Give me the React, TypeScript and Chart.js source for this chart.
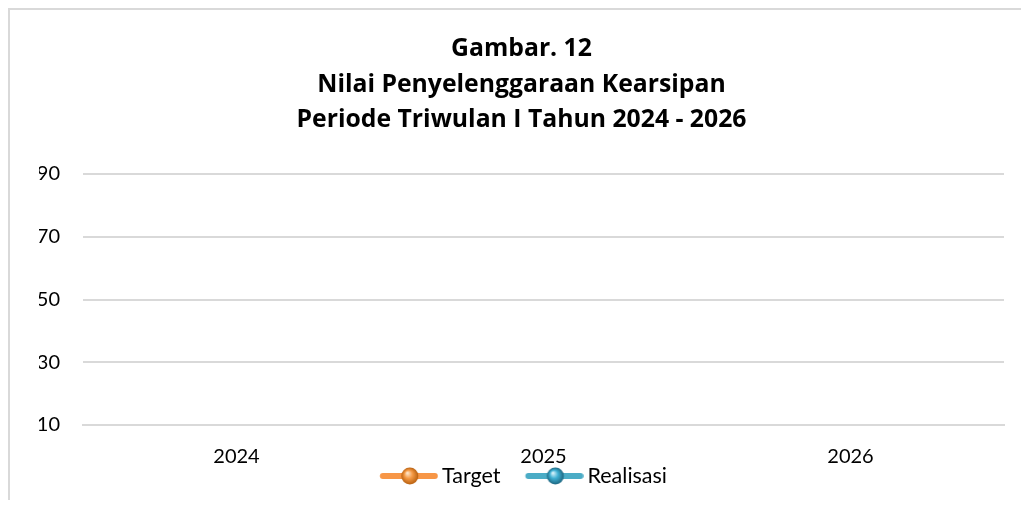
import React, { useEffect, useRef } from 'react';
import { Chart, registerables } from 'chart.js';

Chart.register(...registerables);

const categories: string[] = ['2024', '2025', '2026'];
const targetValues: (number | null)[] = [null, null, null];
const realisasiValues: (number | null)[] = [null, null, null];
const seriesNames: string[] = ['Target', 'Realisasi'];
const titleLines: string[] = ['Gambar. 12', 'Nilai Penyelenggaraan Kearsipan', 'Periode Triwulan I Tahun 2024 - 2026'];
const yMin = 10;
const yMax = 90;
const yStep = 20;

const FONT = 'Lato';
const TITLE_FONT = 'Open Sans';
const LEG_PAD = 21;
const MARK_L = 31.75 - LEG_PAD;
const MARK_W = MARK_L + 58;
const BOX_W = MARK_W - 13.5;

function makeMarker(lineColor: string, light: string, mid: string, dark: string): HTMLCanvasElement {
  const c = document.createElement('canvas');
  c.width = Math.round(MARK_W);
  c.height = 20;
  const ctx = c.getContext('2d') as CanvasRenderingContext2D;
  const L = MARK_L;
  const cy = 10;
  ctx.strokeStyle = lineColor;
  ctx.lineWidth = 6;
  ctx.lineCap = 'round';
  ctx.beginPath();
  ctx.moveTo(L + 3, cy);
  ctx.lineTo(L + 55, cy);
  ctx.stroke();
  const cx = L + 30;
  const r = 8.5;
  const g = ctx.createRadialGradient(cx - 2.5, cy - 3, 0.5, cx, cy, r);
  g.addColorStop(0, light);
  g.addColorStop(0.45, mid);
  g.addColorStop(1, dark);
  ctx.fillStyle = g;
  ctx.beginPath();
  ctx.arc(cx, cy, r, 0, Math.PI * 2);
  ctx.fill();
  return c;
}

export default function App() {
  const ref = useRef<HTMLCanvasElement | null>(null);

  useEffect(() => {
    if (!ref.current) return;
    const markers = [
      makeMarker('#f79646', '#fde3c6', '#f59a45', '#b8600f'),
      makeMarker('#4bacc6', '#d4f1fa', '#3fb0d3', '#1d6680'),
    ];
    const chart = new Chart(ref.current, {
      type: 'line',
      data: {
        labels: categories,
        datasets: [
          {
            label: seriesNames[0],
            data: targetValues,
            borderColor: '#f79646',
            backgroundColor: '#f79646',
            borderWidth: 6,
            pointRadius: 8,
          },
          {
            label: seriesNames[1],
            data: realisasiValues,
            borderColor: '#4bacc6',
            backgroundColor: '#4bacc6',
            borderWidth: 6,
            pointRadius: 8,
          },
        ],
      },
      options: {
        responsive: false,
        animation: false,
        layout: { padding: { top: 0, bottom: 3.25, left: 29, right: 24 } },
        plugins: {
          title: {
            display: true,
            text: titleLines,
            color: '#000',
            font: { family: TITLE_FONT, weight: 'bold', size: 24.75, lineHeight: 35.5 / 24.75 },
            padding: { top: 21.5, bottom: 36 },
          },
          legend: {
            position: 'bottom',
            labels: {
              color: '#000',
              font: { family: FONT, size: 21.5 },
              usePointStyle: true,
              pointStyleWidth: BOX_W,
              padding: LEG_PAD,
              generateLabels: (ch: any) => {
                const items = (Chart.defaults.plugins.legend.labels as any).generateLabels(ch);
                items.forEach((it: any, i: number) => {
                  it.pointStyle = markers[i];
                });
                return items;
              },
            },
          },
          tooltip: { enabled: false },
        },
        scales: {
          x: {
            offset: true,
            grid: { display: false, drawTicks: false },
            border: { display: true, color: '#d9d9d9', width: 2 },
            ticks: { color: '#000', font: { family: FONT, size: 20 }, padding: 20 },
            afterFit: (s: any) => {
              s.height = 40.25 - LEG_PAD;
              s._computeLabelArea = () => undefined;
            },
          },
          y: {
            min: yMin,
            max: yMax,
            grid: { color: '#d9d9d9', lineWidth: 2, drawTicks: false },
            border: { display: false },
            ticks: { stepSize: yStep, color: '#000', font: { family: FONT, size: 20 }, padding: 23 },
            afterFit: (s: any) => {
              s.width = 44;
            },
          },
        },
      },
    } as any);
    return () => chart.destroy();
  }, []);

  return (
    <div style={{ width: 1013, height: 492, overflow: 'hidden' }}>
      <div
        style={{
          width: 1018,
          height: 490,
          borderTop: '2px solid #d9d9d9',
          borderLeft: '2px solid #d9d9d9',
        }}
      >
        <canvas ref={ref} width={1018} height={490} style={{ display: 'block' }} />
      </div>
    </div>
  );
}
